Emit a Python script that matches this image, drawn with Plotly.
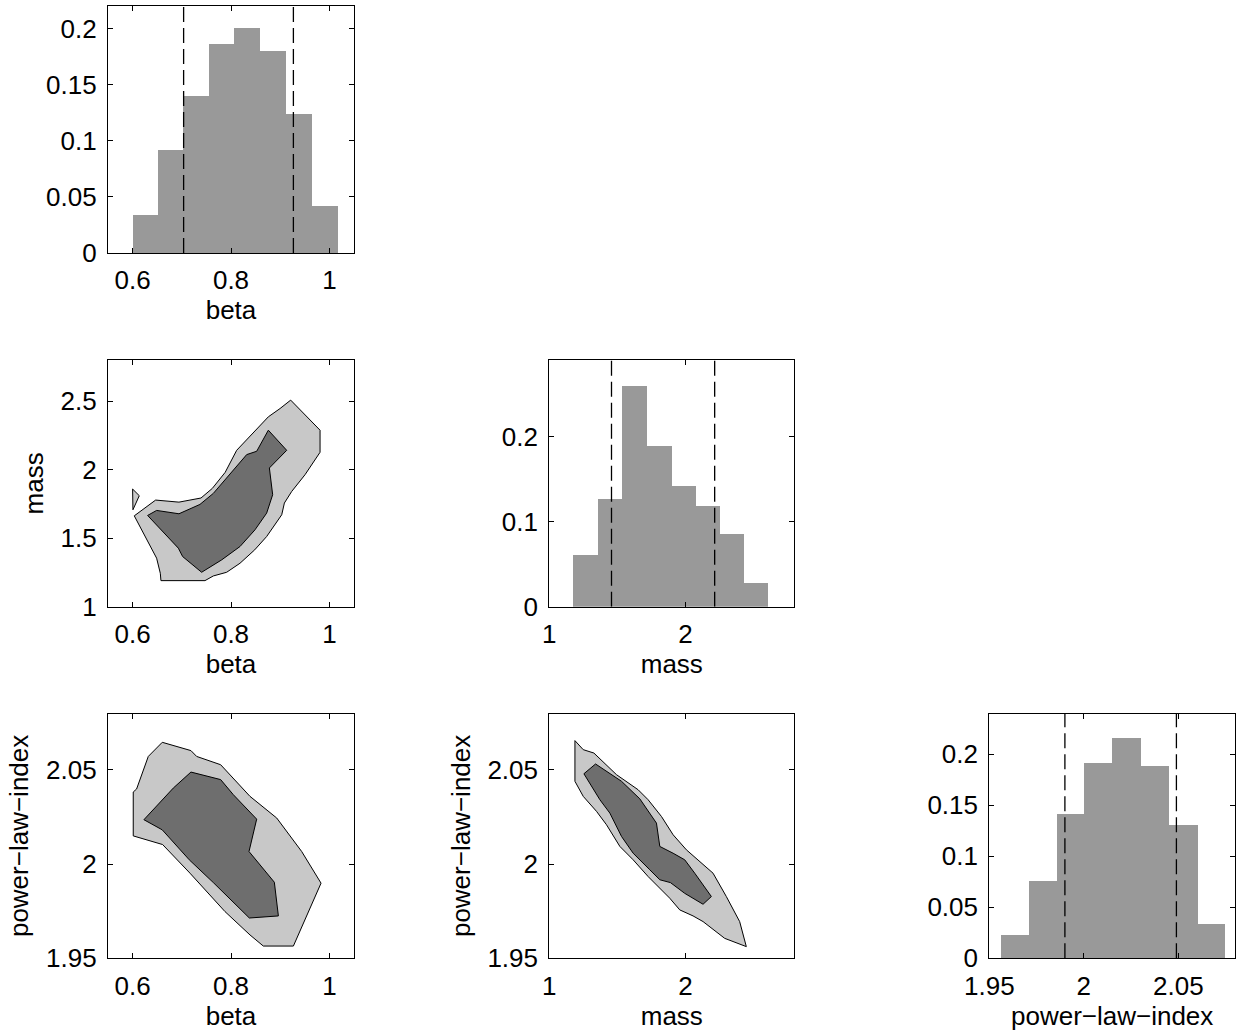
import plotly.graph_objects as go

# ---------------- data ----------------
# marginal histograms (bin edges, normalised heights) and credible-interval bounds
beta_edges = [0.600, 0.6515, 0.7031, 0.7546, 0.8068, 0.8597, 0.9119, 0.9641, 1.0169]
beta_hist = [0.034, 0.092, 0.140, 0.186, 0.200, 0.180, 0.124, 0.042]
beta_ci = [0.7037, 0.9268]

mass_edges = [1.178, 1.357, 1.535, 1.721, 1.900, 2.078, 2.257, 2.433, 2.611]
mass_hist = [0.061, 0.127, 0.260, 0.189, 0.142, 0.118, 0.085, 0.028]
mass_ci = [1.457, 2.215]

pli_edges = [1.9566, 1.9713, 1.9860, 2.0005, 2.0153, 2.0302, 2.0455, 2.0604, 2.0751]
pli_hist = [0.0235, 0.0758, 0.1415, 0.192, 0.216, 0.189, 0.1307, 0.0346]
pli_ci = [1.990, 2.049]

# 2-D credible regions (outer = light, inner = dark)
bm_outer_beta = [0.6034, 0.6468, 0.6942, 0.7390, 0.7620, 0.7881, 0.8115, 0.8319, 0.8522, 0.8759,
                 0.8997, 0.9213, 0.9810, 0.9810, 0.9505, 0.9234, 0.9085, 0.9031, 0.8725, 0.8481,
                 0.8183, 0.7912, 0.7641, 0.7471, 0.6576, 0.6563, 0.6488]
bm_outer_mass = [1.663, 1.778, 1.763, 1.793, 1.863, 1.980, 2.141, 2.2195, 2.2976, 2.3854,
                 2.446, 2.5073, 2.2878, 2.1268, 1.9634, 1.841, 1.7563, 1.6707, 1.512, 1.4146,
                 1.3171, 1.2512, 1.2244, 1.1902, 1.1902, 1.244, 1.354]
bm_inner_beta = [0.6305, 0.6488, 0.6942, 0.7369, 0.7641, 0.7881, 0.8081, 0.8319, 0.8522, 0.8759,
                 0.9132, 0.8780, 0.8847, 0.8725, 0.8488, 0.8183, 0.7810, 0.7403, 0.7017, 0.6930]
bm_inner_mass = [1.6658, 1.7024, 1.678, 1.7463, 1.8268, 1.9293, 2.0122, 2.1098, 2.1341, 2.2878,
                 2.141, 2.0122, 1.8171, 1.6829, 1.561, 1.439, 1.3415, 1.2512, 1.3659, 1.4268]
bm_island_beta = [0.6000, 0.6136, 0.6007]
bm_island_mass = [1.8585, 1.8098, 1.7073]

bp_outer_beta = [0.6603, 0.7186, 0.7302, 0.7790, 0.8386, 0.8929, 0.9437, 0.9830, 0.9268, 0.8657,
                 0.8386, 0.7878, 0.7166, 0.6610, 0.6013, 0.6013, 0.6081, 0.6319]
bp_outer_pli = [2.0647, 2.0603, 2.0572, 2.0528, 2.0360, 2.0245, 2.0067, 1.9899, 1.9565, 1.9565,
                1.9624, 1.9748, 1.9952, 2.0104, 2.0150, 2.0383, 2.0399, 2.0572]
bp_inner_beta = [0.6230, 0.6603, 0.6827, 0.7186, 0.7790, 0.8047, 0.8373, 0.8522, 0.8366, 0.8881,
                 0.8963, 0.8373, 0.7641, 0.7152, 0.6603]
bp_inner_pli = [2.0236, 2.0342, 2.0404, 2.0489, 2.0449, 2.0369, 2.0280, 2.0239, 2.0067, 1.9904,
                1.9725, 1.9714, 1.9902, 2.0023, 2.0182]

mp_outer_mass = [1.1883, 1.2494, 1.3277, 1.3888, 1.4939, 1.6528, 1.7262, 1.8240, 1.9096, 2.0074,
                 2.2030, 2.3007, 2.3986, 2.4475, 2.2885, 2.1296, 2.0563, 1.9585, 1.8851, 1.7262,
                 1.6161, 1.5184, 1.4205, 1.3472, 1.2494, 1.1883]
mp_outer_pli = [2.0656, 2.0608, 2.0590, 2.0546, 2.0475, 2.0395, 2.0342, 2.0253, 2.0156, 2.0076,
                1.9952, 1.9828, 1.9695, 1.9562, 1.9606, 1.9695, 1.9725, 1.9757, 1.9819, 1.9934,
                2.0023, 2.0094, 2.0209, 2.0280, 2.0360, 2.0440]
mp_inner_mass = [1.2543, 1.3399, 1.5306, 1.6650, 1.7873, 1.8118, 1.9096, 1.9951, 2.0685, 2.1907,
                 2.1296, 1.9951, 1.8900, 1.8118, 1.7384, 1.6161, 1.5306, 1.4450, 1.3717]
mp_inner_pli = [2.0480, 2.0532, 2.0440, 2.0347, 2.0218, 2.0094, 2.0058, 2.0023, 1.9952, 1.9828,
                1.9787, 1.9845, 1.9902, 1.9917, 1.9970, 2.0058, 2.0147, 2.0271, 2.0342]

# axis ticks
beta_ticks = [0.6, 0.8, 1.0]
beta_ticktext = ["0.6", "0.8", "1"]
mass_xticks = [1, 2]
mass_xticktext = ["1", "2"]
mass_yticks = [1, 1.5, 2, 2.5]
mass_yticktext = ["1", "1.5", "2", "2.5"]
pli_ticks = [1.95, 2.0, 2.05]
pli_ticktext = ["1.95", "2", "2.05"]
h1_ticks = [0, 0.05, 0.1, 0.15, 0.2]
h1_ticktext = ["0", "0.05", "0.1", "0.15", "0.2"]
h3_ticks = [0, 0.1, 0.2]
h3_ticktext = ["0", "0.1", "0.2"]

beta_range = [0.55, 1.05]
mass_range = [1.0, 2.8]
pli_range = [1.95, 2.08]
h1_range = [0, 0.22]
h3_range = [0, 0.29]
h6_range = [0, 0.24]

# ---------------- styling / layout ----------------
W, H = 1239, 1034
BAR = "#999999"
LIGHT = "#c8c8c8"
DARK = "#6e6e6e"
FONT = dict(family="Liberation Sans, Arial, Helvetica, sans-serif", size=26, color="black")

cols = [(108, 354), (549.3, 794.3), (989.3, 1235)]
rows = [(6, 253), (360, 606.7), (713.5, 958.3)]


def xd(c):
    return [cols[c][0] / W, cols[c][1] / W]


def yd(r):
    return [1 - rows[r][1] / H, 1 - rows[r][0] / H]


fig = go.Figure()


def add_hist(edges, heights, ci, yr, n):
    centers = [(a + b) / 2 for a, b in zip(edges[:-1], edges[1:])]
    widths = [b - a for a, b in zip(edges[:-1], edges[1:])]
    fig.add_trace(go.Bar(x=centers, y=heights, width=widths, marker=dict(color=BAR, line=dict(width=0)),
                         xaxis="x%d" % n, yaxis="y%d" % n, showlegend=False, hoverinfo="x+y"))
    for v in ci:
        fig.add_trace(go.Scatter(x=[v, v], y=[yr[0], yr[1]], mode="lines",
                                 line=dict(color="black", width=1.3, dash="15px,6px"),
                                 xaxis="x%d" % n, yaxis="y%d" % n, showlegend=False, hoverinfo="skip"))


def add_poly(xs, ys, color, n):
    fig.add_trace(go.Scatter(x=xs + xs[:1], y=ys + ys[:1], mode="lines", fill="toself", fillcolor=color,
                             line=dict(color="black", width=1), xaxis="x%d" % n, yaxis="y%d" % n,
                             showlegend=False, hoverinfo="skip"))


add_hist(beta_edges, beta_hist, beta_ci, h1_range, 1)
add_poly(bm_outer_beta, bm_outer_mass, LIGHT, 2)
add_poly(bm_island_beta, bm_island_mass, LIGHT, 2)
add_poly(bm_inner_beta, bm_inner_mass, DARK, 2)
add_hist(mass_edges, mass_hist, mass_ci, h3_range, 3)
add_poly(bp_outer_beta, bp_outer_pli, LIGHT, 4)
add_poly(bp_inner_beta, bp_inner_pli, DARK, 4)
add_poly(mp_outer_mass, mp_outer_pli, LIGHT, 5)
add_poly(mp_inner_mass, mp_inner_pli, DARK, 5)
add_hist(pli_edges, pli_hist, pli_ci, h6_range, 6)


def axis(domain, rng, tv, tt, title, anchor, side):
    d = dict(domain=domain, range=rng, tickmode="array", tickvals=tv, ticktext=tt,
             showline=True, linecolor="black", linewidth=1.2, mirror="allticks",
             ticks="inside", ticklen=5, tickcolor="black", tickwidth=1,
             showgrid=False, zeroline=False, anchor=anchor, tickfont=FONT,
             automargin=False, fixedrange=True)
    if title:
        d["title"] = dict(text=title, font=FONT, standoff=4 if side == "x" else 9)
    if side == "x":
        d["ticklabelstandoff"] = 4
    else:
        d["ticklabelstandoff"] = 5
    return d


layout = dict(
    width=W, height=H, margin=dict(l=0, r=0, t=0, b=0),
    paper_bgcolor="white", plot_bgcolor="white", font=FONT, showlegend=False, bargap=0,
    xaxis=axis(xd(0), beta_range, beta_ticks, beta_ticktext, "beta", "y", "x"),
    yaxis=axis(yd(0), h1_range, h1_ticks, h1_ticktext, None, "x", "y"),
    xaxis2=axis(xd(0), beta_range, beta_ticks, beta_ticktext, "beta", "y2", "x"),
    yaxis2=axis(yd(1), mass_range, mass_yticks, mass_yticktext, "mass", "x2", "y"),
    xaxis3=axis(xd(1), mass_range, mass_xticks, mass_xticktext, "mass", "y3", "x"),
    yaxis3=axis(yd(1), h3_range, h3_ticks, h3_ticktext, None, "x3", "y"),
    xaxis4=axis(xd(0), beta_range, beta_ticks, beta_ticktext, "beta", "y4", "x"),
    yaxis4=axis(yd(2), pli_range, pli_ticks, pli_ticktext, "power\u2212law\u2212index", "x4", "y"),
    xaxis5=axis(xd(1), mass_range, mass_xticks, mass_xticktext, "mass", "y5", "x"),
    yaxis5=axis(yd(2), pli_range, pli_ticks, pli_ticktext, "power\u2212law\u2212index", "x5", "y"),
    xaxis6=axis(xd(2), pli_range, pli_ticks, pli_ticktext, "power\u2212law\u2212index", "y6", "x"),
    yaxis6=axis(yd(2), h6_range, h1_ticks, h1_ticktext, None, "x6", "y"),
)
fig.update_layout(**layout)
fig.write_html("out.html")
